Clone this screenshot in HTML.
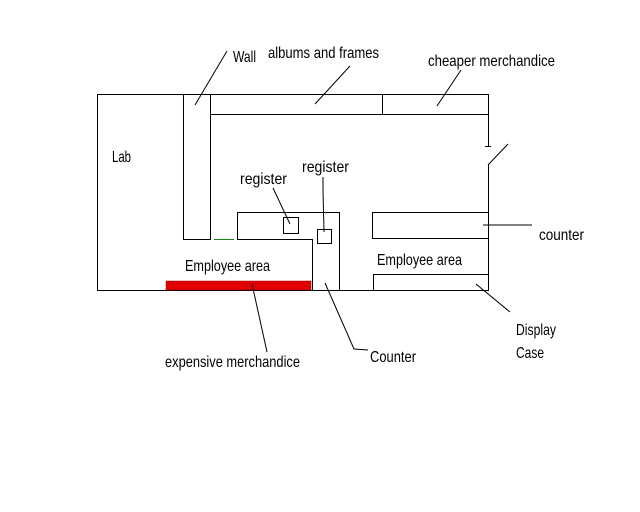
<!DOCTYPE html>
<html><head><style>html,body{margin:0;padding:0;background:#fff}</style></head><body>
<svg width="640" height="512" xmlns="http://www.w3.org/2000/svg" style="display:block" font-family="'Liberation Sans Narrow','Liberation Sans',sans-serif" font-size="16" fill="#000">
<g stroke="#000" stroke-width="1" fill="none" shape-rendering="crispEdges">
<polyline points="488.5,146 488.5,94.5 97.5,94.5 97.5,290.5 488.5,290.5 488.5,165"/>
<line x1="485" y1="146.5" x2="491" y2="146.5"/>
<rect x="183.5" y="94.5" width="27" height="145"/>
<rect x="210.5" y="94.5" width="278" height="20"/>
<line x1="382.5" y1="94.5" x2="382.5" y2="114.5"/>
<polyline points="312.5,290.5 312.5,239.5 237.5,239.5 237.5,212.5 339.5,212.5 339.5,290.5"/>
<rect x="283.5" y="217.5" width="15" height="16"/>
<rect x="317.5" y="229.5" width="14" height="14"/>
<rect x="372.5" y="212.5" width="116" height="26"/>
<rect x="373.5" y="274.5" width="115" height="16"/>
</g>
<line x1="214" y1="239.5" x2="234" y2="239.5" stroke="#1a8a1a" stroke-width="1"/>
<rect x="166" y="281" width="145" height="9" fill="#e00000" stroke="#900" stroke-width="0.5"/>
<g stroke="#000" stroke-width="1" fill="none">
<line x1="488" y1="165" x2="508" y2="144"/>
<line x1="195" y1="105" x2="227" y2="51"/>
<line x1="315" y1="104" x2="350" y2="66"/>
<line x1="437" y1="106" x2="461" y2="70"/>
<line x1="290" y1="224" x2="273" y2="188"/>
<polyline points="323,177 323,190 324,232"/>
<line x1="483" y1="225" x2="532" y2="225"/>
<line x1="476" y1="284" x2="510" y2="312"/>
<polyline points="325,283 354,349 368,350"/>
<line x1="252" y1="284" x2="267" y2="352"/>
</g>
<g lengthAdjust="spacingAndGlyphs">
<text x="233" y="62" textLength="23" lengthAdjust="spacingAndGlyphs">Wall</text>
<text x="268" y="58" textLength="111" lengthAdjust="spacingAndGlyphs">albums and frames</text>
<text x="428" y="66" textLength="127" lengthAdjust="spacingAndGlyphs">cheaper merchandice</text>
<text x="112" y="162" textLength="19" lengthAdjust="spacingAndGlyphs">Lab</text>
<text x="240" y="184" textLength="47" lengthAdjust="spacingAndGlyphs">register</text>
<text x="302" y="172" textLength="47" lengthAdjust="spacingAndGlyphs">register</text>
<text x="539" y="240" textLength="45" lengthAdjust="spacingAndGlyphs">counter</text>
<text x="185" y="271" textLength="85" lengthAdjust="spacingAndGlyphs">Employee area</text>
<text x="377" y="265" textLength="85" lengthAdjust="spacingAndGlyphs">Employee area</text>
<text x="516" y="335" textLength="40" lengthAdjust="spacingAndGlyphs">Display</text>
<text x="516" y="358" textLength="28" lengthAdjust="spacingAndGlyphs">Case</text>
<text x="370" y="362" textLength="46" lengthAdjust="spacingAndGlyphs">Counter</text>
<text x="165" y="367" textLength="135" lengthAdjust="spacingAndGlyphs">expensive merchandice</text>
</g>
</svg>
</body></html>
